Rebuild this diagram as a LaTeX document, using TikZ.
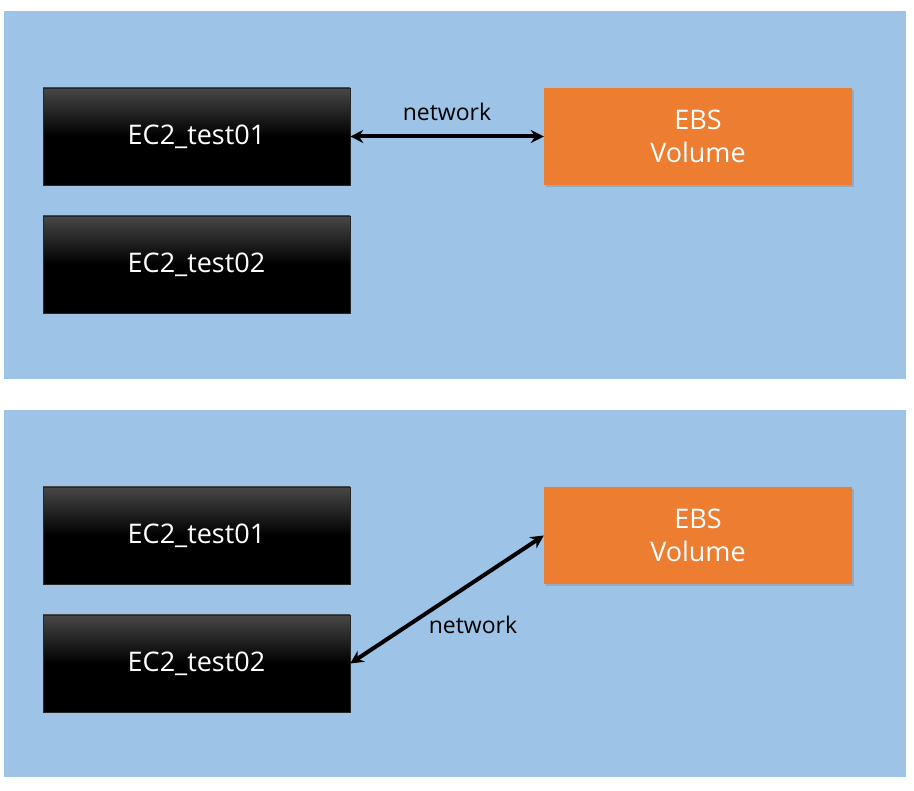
\documentclass[tikz,border=0pt]{standalone}
\usepackage{fontspec}
\setmainfont{Open Sans}
\usetikzlibrary{shadows,arrows.meta}
\definecolor{panelblue}{HTML}{9DC3E6}
\definecolor{ebsorange}{HTML}{ED7D31}
\begin{document}
\begin{tikzpicture}[x=1pt,y=-1pt,
  panel/.style={fill=panelblue,draw=none},
  ecbox/.style={draw=black!85,line width=0.6pt,top color=black!72,bottom color=black,middle color=black,shading angle=0,
    minimum width=307pt,minimum height=97pt,inner sep=0pt,text=white,font=\fontsize{27}{32}\selectfont},
  ebsbox/.style={fill=ebsorange,draw=none,minimum width=308pt,minimum height=97pt,inner sep=0pt,text=white,align=center,
    font=\fontsize{27}{33}\selectfont,drop shadow={shadow xshift=1.5pt,shadow yshift=-2pt,opacity=0.35}},
  conn/.style={line width=4pt,{Stealth[length=13pt,width=13pt]}-{Stealth[length=13pt,width=13pt]}},
  lbl/.style={font=\fontsize{23}{26}\selectfont,text=black}]
\useasboundingbox (0,0) rectangle (914,791);
\fill[white] (0,0) rectangle (914,791);
\fill[panel] (4,11) rectangle (906,379);
\fill[panel] (4,410) rectangle (906,777);
% top panel
\node[ecbox] (a1) at (196.5,136.5) {EC2\_test01};
\node[ecbox] (a2) at (196.5,264.5) {EC2\_test02};
\node[ebsbox] (e1) at (698,136.5) {EBS\\Volume};
\draw[conn] (a1.east) -- (e1.west);
\node[lbl] (n1) at (447,112) {network};
% bottom panel
\node[ecbox] (b1) at (196.5,535.5) {EC2\_test01};
\node[ecbox] (b2) at (196.5,663.5) {EC2\_test02};
\node[ebsbox] (e2) at (698,535.5) {EBS\\Volume};
\draw[conn] (b2.east) -- (e2.west);
\node[lbl] (n2) at (473,625) {network};
\end{tikzpicture}
\end{document}
